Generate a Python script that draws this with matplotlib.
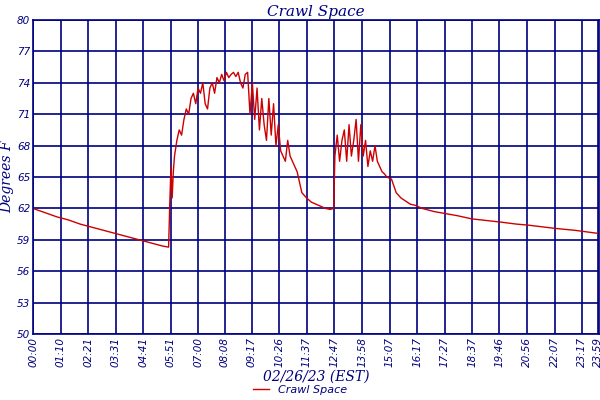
import matplotlib.pyplot as plt

# time in hours, temperature in deg F
hours = [0.0, 0.5, 1.0, 1.5, 2.0, 2.5, 3.0, 3.5, 4.0, 4.5, 5.0, 5.5, 5.75,
         5.8, 5.85, 5.9, 5.95, 6.0, 6.1, 6.2, 6.3, 6.4, 6.5, 6.6, 6.7, 6.8, 6.9, 7.0,
         7.1, 7.2, 7.3, 7.4, 7.5, 7.6, 7.7, 7.8, 7.9, 8.0, 8.1, 8.2, 8.3, 8.4, 8.5,
         8.6, 8.7, 8.8, 8.9, 9.0, 9.1, 9.2, 9.3, 9.4, 9.5, 9.6, 9.7, 9.8, 9.9,
         10.0, 10.1, 10.2, 10.3, 10.4, 10.5, 10.6, 10.7, 10.8, 10.9, 11.0, 11.2,
         11.4, 11.6, 11.8, 12.0, 12.2, 12.4, 12.6, 12.75, 12.8, 12.9, 13.0, 13.1,
         13.2, 13.3, 13.4, 13.5, 13.6, 13.7, 13.8, 13.9, 14.0, 14.1, 14.2, 14.3,
         14.4, 14.5, 14.6, 14.7, 14.8, 14.9, 15.0, 15.2, 15.4, 15.6, 15.8, 16.0,
         16.2, 16.5, 17.0, 17.5, 18.0, 18.6, 19.0, 19.8, 20.5, 21.0, 22.1, 23.0, 24.0]
temps = [62.0, 61.6, 61.2, 60.9, 60.5, 60.2, 59.9, 59.6, 59.3, 59.0, 58.7, 58.4, 58.3,
         62.5, 66.0, 63.0, 65.5, 67.0, 68.5, 69.5, 69.0, 70.5, 71.5, 71.0, 72.5, 73.0, 72.0, 73.5,
         73.0, 74.0, 72.0, 71.5, 73.5, 74.0, 73.0, 74.5, 74.0, 74.8, 74.2, 75.0, 74.5, 74.8, 75.0,
         74.6, 75.0, 74.0, 73.5, 74.8, 75.0, 71.0, 74.0, 70.5, 73.5, 69.5, 72.5, 70.0, 68.5,
         72.5, 69.0, 72.0, 68.0, 70.0, 67.5, 67.0, 66.5, 68.5, 67.0, 66.5, 65.5,
         63.5, 63.0, 62.6, 62.4, 62.2, 62.0, 61.9, 62.0, 67.0, 69.0, 66.5, 68.5,
         69.5, 66.5, 70.0, 67.0, 68.5, 70.5, 66.5, 70.0, 67.0, 68.5, 66.0, 67.5,
         66.5, 68.0, 66.5, 66.0, 65.5, 65.3, 65.0, 64.8, 63.5, 63.0, 62.7, 62.4,
         62.3, 62.0, 61.7, 61.5, 61.3, 61.0, 60.9, 60.7, 60.5, 60.4, 60.1, 59.9, 59.6]

tick_labels = ["00:00", "01:10", "02:21", "03:31", "04:41", "05:51", "07:00", "08:08",
               "09:17", "10:26", "11:37", "12:47", "13:58", "15:07", "16:17", "17:27",
               "18:37", "19:46", "20:56", "22:07", "23:17", "23:59"]
yticks = [50, 53, 56, 59, 62, 65, 68, 71, 74, 77, 80]

navy = "#000080"
fig = plt.figure(figsize=(6, 4), dpi=100)
ax = fig.add_axes([0.055, 0.165, 0.943, 0.785])
ax.plot(hours, temps, color="#cc0000", lw=1, label="Crawl Space")

def to_h(s):
    h, m = s.split(":")
    return int(h) + int(m) / 60

ticks = [to_h(s) for s in tick_labels]
ticks[-1] = 23.97
ax.set_xticks(ticks)
ax.set_xticklabels(tick_labels, rotation=90, fontsize=7.5, color=navy, style="italic")
ax.set_yticks(yticks)
ax.set_yticklabels(yticks, fontsize=7.5, color=navy, style="italic")
ax.set_xlim(0, 23.99)
ax.set_ylim(50, 80)
ax.tick_params(length=0, pad=2)
ax.grid(True, color=navy, lw=1.2)
for s in ax.spines.values():
    s.set_color(navy)
    s.set_linewidth(1.2)
ax.set_title("Crawl Space", color=navy, style="italic", family="DejaVu Serif", fontsize=11, pad=3)
ax.set_ylabel("Degrees F", color=navy, style="italic", family="DejaVu Serif", fontsize=10, labelpad=2)
ax.set_xlabel("02/26/23 (EST)", color=navy, style="italic", family="DejaVu Serif", fontsize=10, labelpad=2)
fig.legend(loc="center", bbox_to_anchor=(0.5, 0.025), frameon=False,
           labelcolor=navy, handlelength=1.5, borderpad=0, prop={"style": "italic", "size": 8})
fig.savefig("out.png")
